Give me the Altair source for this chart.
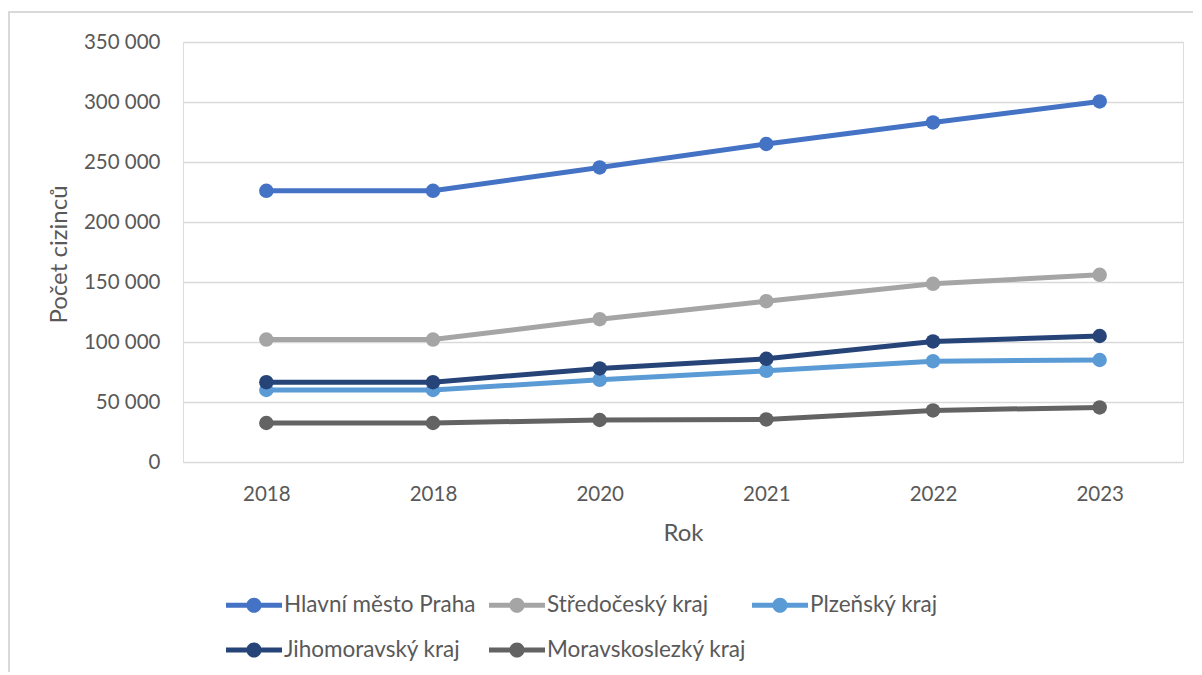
import altair as alt
import pandas as pd

years = ["2018", "2018", "2020", "2021", "2022", "2023"]
series_names = ["Hlavní město Praha", "Středočeský kraj", "Plzeňský kraj",
                "Jihomoravský kraj", "Moravskoslezký kraj"]
praha = [226000, 226000, 245500, 265000, 283000, 300500]
stredocesky = [102000, 102000, 119000, 134000, 148500, 156000]
plzensky = [60000, 60000, 68500, 76000, 84000, 85000]
jihomoravsky = [66500, 66500, 78000, 86000, 100500, 105000]
moravskoslezsky = [32500, 32500, 35000, 35500, 43000, 45500]
colors = ["#4472C4", "#A5A5A5", "#5B9BD5", "#264478", "#636363"]

values = [praha, stredocesky, plzensky, jihomoravsky, moravskoslezsky]
rows = []
for name, vals in zip(series_names, values):
    for i, v in enumerate(vals):
        rows.append({"pos": i, "rok": years[i], "kraj": name, "serie": name, "pocet": v})
df = pd.DataFrame(rows)

FONT = "Lato"
TXT = "#595959"

label_arr = "[" + ",".join("'" + y + "'" for y in years) + "]"

x_enc = alt.X(
    "pos:O",
    scale=alt.Scale(paddingInner=0, paddingOuter=0.5, align=0.5),
    axis=alt.Axis(
        title="Rok",
        labelExpr=label_arr + "[datum.value]",
        labelAngle=0,
        labelFontSize=20.5,
        labelColor=TXT,
        labelFont=FONT,
        labelBaseline="middle",
        labelPadding=32,
        ticks=False,
        domain=False,
        grid=False,
        titleFontSize=24,
        titleFont=FONT,
        titleColor=TXT,
        titleFontWeight="normal",
        titleX=500,
        titleY=71,
        titleBaseline="middle",
    ),
)
y_enc = alt.Y(
    "pocet:Q",
    scale=alt.Scale(domain=[0, 350000], nice=False),
    axis=alt.Axis(
        title="Počet cizinců",
        values=[0, 50000, 100000, 150000, 200000, 250000, 300000, 350000],
        labelExpr="replace(format(datum.value, ','), ',', ' ')",
        labelFontSize=20.5,
        labelColor=TXT,
        labelFont=FONT,
        labelPadding=23,
        ticks=False,
        domain=False,
        gridColor="#D9D9D9",
        gridWidth=1.5,
        titleFontSize=24,
        titleFont=FONT,
        titleColor=TXT,
        titleFontWeight="normal",
        titleAngle=270,
        titleX=-124,
        titleY=212,
        titleAlign="center",
        titleBaseline="middle",
    ),
)

legend_symbol = ("M -1,-0.09 L 1,-0.09 L 1,0.09 L -1,0.09 Z "
                 "M -0.27,0 A 0.27,0.27 0 1,1 0.27,0 A 0.27,0.27 0 1,1 -0.27,0 Z")

lines = alt.Chart(df).mark_line(strokeWidth=5).encode(
    x=x_enc,
    y=y_enc,
    stroke=alt.Stroke("serie:N", scale=alt.Scale(domain=series_names, range=colors), legend=None),
    detail="serie:N",
)
points = alt.Chart(df).mark_point(filled=True, size=210, opacity=1).encode(
    x=x_enc,
    y=y_enc,
    fill=alt.Fill(
        "kraj:N",
        scale=alt.Scale(domain=series_names, range=colors),
        legend=alt.Legend(
            title=None,
            orient="none",
            legendX=43,
            legendY=535,
            direction="horizontal",
            columns=3,
            gridAlign="all",
            columnPadding=6,
            rowPadding=5,
            symbolType=legend_symbol,
            symbolSize=3136,
            symbolStrokeWidth=0,
            symbolOpacity=1,
            labelFontSize=22.5,
            labelFont=FONT,
            labelColor=TXT,
            labelOffset=2,
            labelLimit=400,
        ),
    ),
)

frame_top = alt.Chart(df).mark_rule(color="#D9D9D9", strokeWidth=1.5).encode(
    x=alt.value(-175), x2=alt.value(1010), y=alt.value(-30)
)
frame_left = alt.Chart(df).mark_rule(color="#D9D9D9", strokeWidth=1.5).encode(
    x=alt.value(-174), y=alt.value(-30), y2=alt.value(640)
)

chart = (
    alt.layer(frame_top, frame_left, lines, points)
    .resolve_scale(fill="independent", stroke="independent")
    .properties(
        width=1000,
        height=420,
        autosize=alt.AutoSizeParams(type="none"),
        padding={"left": 175, "top": 34, "right": 10, "bottom": 210},
    )
    .configure_view(stroke=None)
    .configure(background="white")
)

chart.save("out.html", embed_options={"renderer": "svg", "actions": False})
